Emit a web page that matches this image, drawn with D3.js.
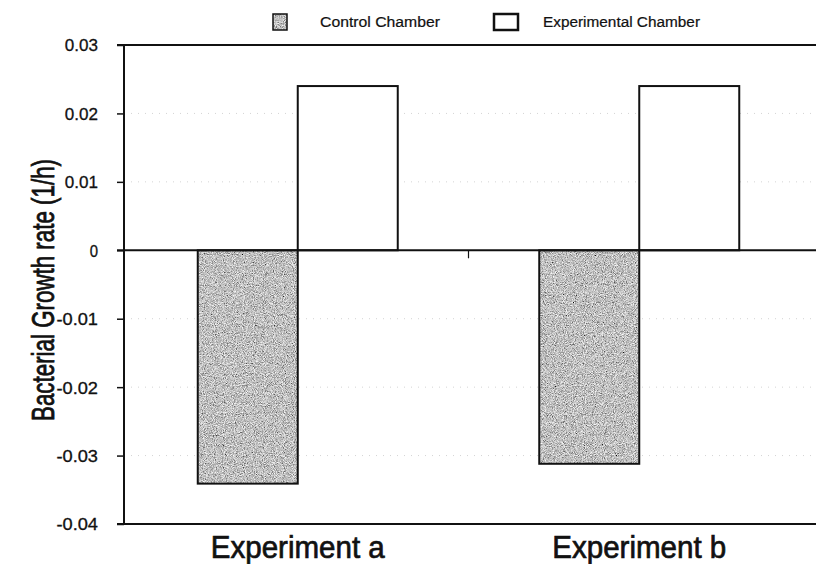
<!DOCTYPE html>
<html>
<head>
<meta charset="utf-8">
<script src="https://cdn.jsdelivr.net/npm/d3@7"></script>
<style>
  html, body { margin: 0; padding: 0; background: #fff; }
  svg { display: block; }
  text { font-family: "Liberation Sans", Arial, sans-serif; fill: #111; }
</style>
</head>
<body>
<svg id="chart" width="816" height="564"></svg>
<script>
const categories = ["Experiment a", "Experiment b"];
const seriesNames = ["Control Chamber", "Experimental Chamber"];
const controlValues = [-0.0341, -0.0312];
const experimentalValues = [0.024, 0.024];
const yTicks = [0.03, 0.02, 0.01, 0, -0.01, -0.02, -0.03, -0.04];
const yTickLabels = ["0.03", "0.02", "0.01", "0", "-0.01", "-0.02", "-0.03", "-0.04"];
const yTitle = "Bacterial Growth rate (1/h)";

const svg = d3.select("#chart");
const axisX = 124, rightX = 816;

const defs = svg.append("defs");
const f = defs.append("filter").attr("id", "noise")
  .attr("x", 0).attr("y", 0).attr("width", 1).attr("height", 1);
f.append("feTurbulence").attr("type", "fractalNoise").attr("baseFrequency", 1.1)
  .attr("numOctaves", 2).attr("seed", 5).attr("result", "t");
f.append("feColorMatrix").attr("in", "t").attr("type", "matrix")
  .attr("values", "1.35 0 0 0 -0.15  1.35 0 0 0 -0.15  1.35 0 0 0 -0.15  0 0 0 0 1").attr("result", "g");
f.append("feComposite").attr("in", "g").attr("in2", "SourceGraphic").attr("operator", "in");

const y = d3.scaleLinear().domain([-0.04, 0.03]).range([524, 45]);
const x0 = d3.scaleBand().domain(categories).range([127, 810]).paddingInner(0).paddingOuter(0);
const x1 = d3.scaleBand().domain(seriesNames).range([0, 200]).paddingInner(0).paddingOuter(0);
const groupOffset = (x0.bandwidth() - 200) / 2;

// faint grid lines
svg.append("g").selectAll("line")
  .data(yTicks.filter(v => v !== 0 && v !== 0.03 && v !== -0.04))
  .join("line")
  .attr("x1", axisX).attr("x2", rightX)
  .attr("y1", d => y(d)).attr("y2", d => y(d))
  .attr("stroke", "#d4d4d4").attr("stroke-width", 1)
  .attr("stroke-dasharray", "1,6");

// bars
const data = [];
categories.forEach((c, i) => {
  data.push({cat: c, s: seriesNames[0], v: controlValues[i]});
  data.push({cat: c, s: seriesNames[1], v: experimentalValues[i]});
});
const barG = svg.append("g");
data.forEach(d => {
  const bx = x0(d.cat) + groupOffset + x1(d.s);
  const by = y(Math.max(0, d.v));
  const bh = Math.abs(y(d.v) - y(0));
  if (d.s === seriesNames[0]) {
    barG.append("rect").attr("x", bx).attr("y", by).attr("width", x1.bandwidth()).attr("height", bh)
      .attr("fill", "#999").attr("filter", "url(#noise)");
    barG.append("rect").attr("x", bx).attr("y", by).attr("width", x1.bandwidth()).attr("height", bh)
      .attr("fill", "none").attr("stroke", "#111").attr("stroke-width", 2);
  } else {
    barG.append("rect").attr("x", bx).attr("y", by).attr("width", x1.bandwidth()).attr("height", bh)
      .attr("fill", "#fff").attr("stroke", "#111").attr("stroke-width", 2);
  }
});

// frame lines
const frame = svg.append("g").attr("stroke", "#111");
frame.append("line").attr("x1", 117).attr("x2", rightX).attr("y1", y(0.03)).attr("y2", y(0.03)).attr("stroke-width", 2);
frame.append("line").attr("x1", 117).attr("x2", rightX).attr("y1", y(0)).attr("y2", y(0)).attr("stroke-width", 2);
frame.append("line").attr("x1", 117).attr("x2", rightX).attr("y1", y(-0.04)).attr("y2", y(-0.04)).attr("stroke-width", 2);
frame.append("line").attr("x1", x0(categories[1])).attr("x2", x0(categories[1]))
  .attr("y1", y(0)).attr("y2", y(0) + 8).attr("stroke-width", 1.2);

// y axis
const yAxis = d3.axisLeft(y).tickValues(yTicks).tickSize(7).tickPadding(19)
  .tickFormat((d, i) => yTickLabels[i]);
const ya = svg.append("g").attr("transform", `translate(${axisX},0)`).call(yAxis);
ya.select(".domain").attr("stroke", "#111").attr("stroke-width", 2).attr("d", `M-0,${y(0.03)}V${y(-0.04)}`);
ya.selectAll(".tick line").attr("stroke", "#111").attr("stroke-width", 1.5);
ya.selectAll(".tick text").attr("font-size", 17).attr("font-family", '"Liberation Sans", Arial, sans-serif')
  .attr("fill", "#111").attr("stroke", "#111").attr("stroke-width", 0.3).attr("dy", "0.35em")
  .attr("textLength", (d, i) => yTickLabels[i].length * 8.3)
  .attr("lengthAdjust", "spacingAndGlyphs");

// x labels
svg.append("g").selectAll("text").data(categories).join("text")
  .attr("x", d => x0(d) + x0.bandwidth() / 2)
  .attr("y", 558)
  .attr("text-anchor", "middle")
  .attr("font-size", 31)
  .attr("stroke", "#111").attr("stroke-width", 0.7)
  .attr("textLength", 174)
  .attr("lengthAdjust", "spacingAndGlyphs")
  .text(d => d);

// y title
svg.append("text")
  .attr("transform", `translate(54, 290) rotate(-90)`)
  .attr("text-anchor", "middle")
  .attr("font-size", 31)
  .attr("stroke", "#111").attr("stroke-width", 0.8)
  .attr("textLength", 262)
  .attr("lengthAdjust", "spacingAndGlyphs")
  .text(yTitle);

// legend
const lg = svg.append("g");
lg.append("rect").attr("x", 273).attr("y", 14).attr("width", 14).attr("height", 16)
  .attr("fill", "#999").attr("filter", "url(#noise)");
lg.append("rect").attr("x", 273).attr("y", 14).attr("width", 14).attr("height", 16)
  .attr("fill", "none").attr("stroke", "#111").attr("stroke-width", 1.5);
lg.append("text").attr("x", 320).attr("y", 27).attr("font-size", 14)
  .attr("stroke", "#111").attr("stroke-width", 0.2)
  .attr("textLength", 120).attr("lengthAdjust", "spacingAndGlyphs").text(seriesNames[0]);
lg.append("rect").attr("x", 494).attr("y", 14).attr("width", 24).attr("height", 16)
  .attr("fill", "#fff").attr("stroke", "#111").attr("stroke-width", 2.5);
lg.append("text").attr("x", 543).attr("y", 27).attr("font-size", 14)
  .attr("stroke", "#111").attr("stroke-width", 0.2)
  .attr("textLength", 157).attr("lengthAdjust", "spacingAndGlyphs").text(seriesNames[1]);
</script>
</body>
</html>
